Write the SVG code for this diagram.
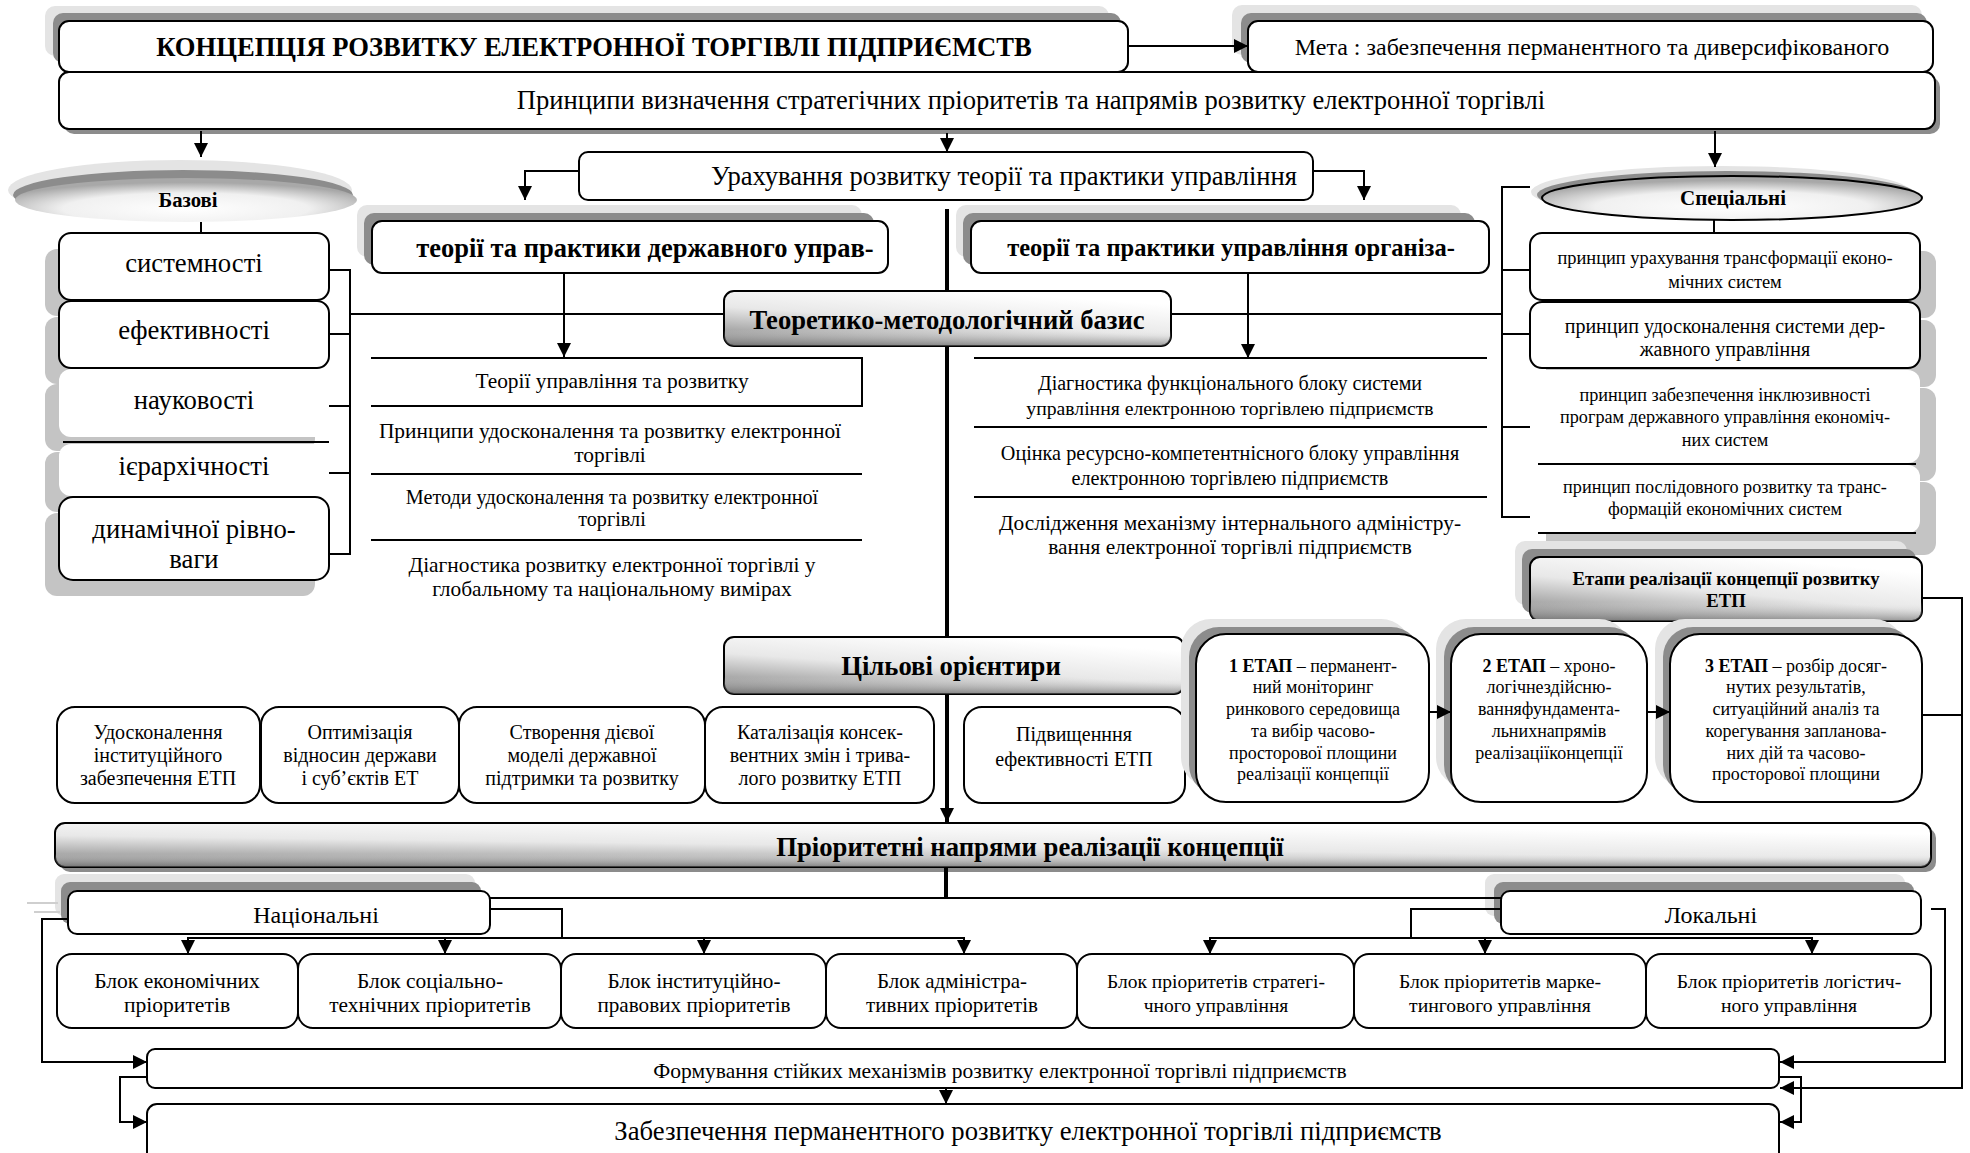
<svg xmlns="http://www.w3.org/2000/svg" width="1970" height="1153" viewBox="0 0 1970 1153">
<defs>
<style>
.t{font-family:"Liberation Serif","Times New Roman",serif;fill:#000;text-anchor:middle}
.b{font-weight:bold}
.box{fill:#fff;stroke:#000;stroke-width:2}
.nob{fill:#fff;stroke:none}
.shl{fill:#e4e4e4}
.shd{fill:#8c8c8c}
.shg{fill:#c4c4c4}
.ln{fill:none;stroke:#000;stroke-width:2}
.thk{fill:none;stroke:#000;stroke-width:4}
.gl{fill:none;stroke:#cfcfcf;stroke-width:2}
</style>
<marker id="ah" viewBox="0 0 14 14" refX="14" refY="7" markerWidth="14" markerHeight="14" orient="auto" markerUnits="userSpaceOnUse"><path d="M0,0 L14,7 L0,14 z" fill="#000"/></marker>
<linearGradient id="gr" x1="0" y1="1" x2="0.55" y2="0">
<stop offset="0" stop-color="#7c7c7c"/>
<stop offset="0.55" stop-color="#e8e8e8"/>
<stop offset="1" stop-color="#ffffff"/>
</linearGradient>
<linearGradient id="grv" x1="0" y1="0" x2="0" y2="1">
<stop offset="0" stop-color="#ffffff" stop-opacity="0"/>
<stop offset="0.7" stop-color="#ffffff" stop-opacity="0"/>
<stop offset="1" stop-color="#6a6a6a" stop-opacity="0.55"/>
</linearGradient>
<radialGradient id="rg" cx="0.5" cy="0.7" r="0.6">
<stop offset="0" stop-color="#ffffff"/>
<stop offset="0.6" stop-color="#f0f0f0"/>
<stop offset="1" stop-color="#a8a8a8"/>
</radialGradient>
</defs>

<g id="title">
<rect class="shl" x="45" y="6" width="1064" height="50" rx="10"/>
<rect class="shd" x="53" y="13" width="1068" height="50" rx="10"/>
<rect class="box" x="59" y="21" width="1069" height="51" rx="10"/>
<text class="t b" x="594" y="56" font-size="26.6">КОНЦЕПЦІЯ РОЗВИТКУ ЕЛЕКТРОННОЇ ТОРГІВЛІ ПІДПРИЄМСТВ</text>
</g>

<g id="meta">
<rect class="shl" x="1232" y="5" width="690" height="50" rx="10"/>
<rect class="shd" x="1241" y="13" width="686" height="50" rx="10"/>
<rect class="box" x="1248" y="21" width="685" height="51" rx="10"/>
<text class="t" x="1592" y="55" font-size="24">Мета : забезпечення перманентного та диверсифікованого</text>
</g>

<g id="pryntsypy">
<rect class="shd" x="64" y="77" width="1876" height="57" rx="10"/>
<rect class="box" x="59" y="72" width="1876" height="57" rx="10"/>
<text class="t" x="1031" y="109" font-size="26.6">Принципи визначення стратегічних пріоритетів та напрямів розвитку електронної торгівлі</text>
</g>

<g id="urakhuvannia">
<rect class="box" x="579" y="152" width="734" height="48" rx="9"/>
<text class="t" x="1004" y="185" font-size="26.6">Урахування розвитку теорії та практики управління</text>
</g>

<g id="bazovi">
<ellipse class="shl" cx="180" cy="190" rx="172" ry="30"/>
<ellipse class="shd" cx="183" cy="195" rx="170" ry="25"/>
<ellipse cx="186" cy="200" rx="171" ry="22" fill="url(#rg)"/>
<text class="t b" x="188" y="207" font-size="20.7">Базові</text>
</g>

<g id="bazovi-list">
<rect class="shg" x="45" y="249" width="270" height="67" rx="12"/>
<rect class="shg" x="45" y="317" width="270" height="67" rx="12"/>
<rect class="shg" x="45" y="384" width="270" height="67" rx="12"/>
<rect class="shg" x="45" y="452" width="270" height="60" rx="12"/>
<rect class="shg" x="45" y="513" width="270" height="83" rx="12"/>
<rect class="box" x="59" y="233" width="270" height="67" rx="12"/>
<text class="t" x="194" y="272" font-size="26.7">системності</text>
<rect class="box" x="59" y="301" width="270" height="67" rx="12"/>
<text class="t" x="194" y="339" font-size="26.7">ефективності</text>
<rect class="nob" x="59" y="369" width="270" height="68" rx="12"/>
<text class="t" x="194" y="409" font-size="26.7">науковості</text>
<rect class="nob" x="59" y="444" width="270" height="52" rx="12"/>
<line class="ln" x1="63" y1="442" x2="329" y2="442"/>
<text class="t" x="194" y="475" font-size="26.7">ієрархічності</text>
<rect class="box" x="59" y="497" width="270" height="83" rx="14"/>
<text class="t" x="194" y="538" font-size="26.7">динамічної рівно-</text>
<text class="t" x="194" y="568" font-size="26.7">ваги</text>
</g>

<g id="derzh">
<rect class="shl" x="357" y="205" width="505" height="52" rx="10"/>
<rect class="shd" x="364" y="213" width="510" height="52" rx="10"/>
<rect class="box" x="372" y="221" width="516" height="52" rx="10"/>
<text class="t b" x="645" y="257" font-size="26.5">теорії та практики державного управ-</text>
</g>

<g id="org">
<rect class="shl" x="956" y="205" width="505" height="52" rx="10"/>
<rect class="shd" x="963" y="213" width="512" height="52" rx="10"/>
<rect class="box" x="971" y="221" width="518" height="52" rx="10"/>
<text class="t b" x="1231" y="256" font-size="24.5">теорії та практики управління організа-</text>
</g>

<g id="teoretyko">
<rect x="724" y="291" width="447" height="55" rx="10" fill="url(#gr)" stroke="#000" stroke-width="2"/>
<rect x="724" y="291" width="447" height="55" rx="10" fill="url(#grv)"/>
<text class="t b" x="947" y="329" font-size="26.6">Теоретико-методологічний базис</text>
</g>

<g id="left-list">
<line class="ln" x1="371" y1="358" x2="862" y2="358"/>
<line class="ln" x1="862" y1="357" x2="862" y2="407"/>
<line class="ln" x1="371" y1="406" x2="862" y2="406"/>
<line class="ln" x1="371" y1="474" x2="862" y2="474"/>
<line class="ln" x1="371" y1="540" x2="862" y2="540"/>
<text class="t" x="612" y="388" font-size="21.4">Теорії управління та розвитку</text>
<text class="t" x="610" y="438" font-size="21.4">Принципи удосконалення та розвитку електронної</text>
<text class="t" x="610" y="462" font-size="21.4">торгівлі</text>
<text class="t" x="612" y="504" font-size="20.2">Методи удосконалення та розвитку електронної</text>
<text class="t" x="612" y="526" font-size="20.2">торгівлі</text>
<text class="t" x="612" y="572" font-size="21.4">Діагностика розвитку електронної торгівлі у</text>
<text class="t" x="612" y="596" font-size="21.4">глобальному та національному вимірах</text>
</g>

<g id="right-list">
<line class="ln" x1="974" y1="358" x2="1487" y2="358"/>
<line class="ln" x1="974" y1="427" x2="1487" y2="427"/>
<line class="ln" x1="974" y1="497" x2="1487" y2="497"/>
<text class="t" x="1230" y="390" font-size="20">Діагностика функціонального блоку системи</text>
<text class="t" x="1230" y="415" font-size="19.7">управління електронною торгівлею підприємств</text>
<text class="t" x="1230" y="460" font-size="20.2">Оцінка ресурсно-компетентнісного блоку управління</text>
<text class="t" x="1230" y="485" font-size="20.2">електронною торгівлею підприємств</text>
<text class="t" x="1230" y="530" font-size="21.4">Дослідження механізму інтернального адміністру-</text>
<text class="t" x="1230" y="554" font-size="21.4">вання електронної торгівлі підприємств</text>
</g>

<g id="spetsialni">
<ellipse class="shl" cx="1721" cy="192" rx="190" ry="26"/>
<ellipse class="shd" cx="1727" cy="195" rx="190" ry="24"/>
<ellipse cx="1732" cy="198" rx="190" ry="22" fill="url(#rg)" stroke="#000" stroke-width="2"/>
<text class="t b" x="1733" y="205" font-size="21">Спеціальні</text>
</g>

<g id="spetsialni-list">
<rect class="shg" x="1546" y="251" width="390" height="67" rx="12"/>
<rect class="shg" x="1546" y="320" width="390" height="67" rx="12"/>
<rect class="shg" x="1546" y="388" width="390" height="93" rx="12"/>
<rect class="shg" x="1546" y="482" width="390" height="73" rx="12"/>
<rect class="box" x="1530" y="233" width="390" height="67" rx="12"/>
<text class="t" x="1725" y="264" font-size="18.4">принцип урахування трансформації еконо-</text>
<text class="t" x="1725" y="288" font-size="18.4">мічних систем</text>
<rect class="box" x="1530" y="302" width="390" height="66" rx="12"/>
<text class="t" x="1725" y="333" font-size="20">принцип удосконалення системи дер-</text>
<text class="t" x="1725" y="356" font-size="20">жавного управління</text>
<rect class="nob" x="1530" y="370" width="390" height="93" rx="12"/>
<text class="t" x="1725" y="401" font-size="18.2">принцип забезпечення інклюзивності</text>
<text class="t" x="1725" y="423" font-size="18.2">програм державного управління економіч-</text>
<text class="t" x="1725" y="446" font-size="18.2">них систем</text>
<rect class="nob" x="1530" y="465" width="390" height="68" rx="12"/>
<line class="ln" x1="1538" y1="464" x2="1916" y2="464"/>
<text class="t" x="1725" y="493" font-size="18.2">принцип послідовного розвитку та транс-</text>
<text class="t" x="1725" y="515" font-size="18.2">формацій економічних систем</text>
<line class="ln" x1="1538" y1="533" x2="1916" y2="533"/>
</g>

<g id="etapy">
<rect class="shl" x="1515" y="541" width="392" height="64" rx="10"/>
<rect class="shd" x="1522" y="549" width="394" height="64" rx="10"/>
<rect x="1530" y="557" width="392" height="64" rx="10" fill="url(#gr)" stroke="#000" stroke-width="2"/>
<rect x="1530" y="557" width="392" height="64" rx="10" fill="url(#grv)"/>
<text class="t b" x="1726" y="585" font-size="18.7">Етапи реалізації концепції розвитку</text>
<text class="t b" x="1726" y="607" font-size="18.7">ЕТП</text>
</g>

<g id="tsilovi">
<rect x="724" y="637" width="460" height="57" rx="10" fill="url(#gr)" stroke="#000" stroke-width="2"/>
<rect x="724" y="637" width="460" height="57" rx="10" fill="url(#grv)"/>
<text class="t b" x="951" y="675" font-size="26.7">Цільові орієнтири</text>
</g>

<g id="tsil-1">
<rect class="box" x="57" y="707" width="203" height="96" rx="18"/>
<text class="t" x="158" y="739" font-size="20">Удосконалення</text>
<text class="t" x="158" y="762" font-size="20">інституційного</text>
<text class="t" x="158" y="785" font-size="20">забезпечення ЕТП</text>
</g>
<g id="tsil-2">
<rect class="box" x="261" y="707" width="198" height="96" rx="18"/>
<text class="t" x="360" y="739" font-size="20">Оптимізація</text>
<text class="t" x="360" y="762" font-size="20">відносин держави</text>
<text class="t" x="360" y="785" font-size="20">і суб’єктів ЕТ</text>
</g>
<g id="tsil-3">
<rect class="box" x="459" y="707" width="246" height="96" rx="18"/>
<text class="t" x="582" y="739" font-size="20">Створення дієвої</text>
<text class="t" x="582" y="762" font-size="20">моделі державної</text>
<text class="t" x="582" y="785" font-size="20">підтримки та розвитку</text>
</g>
<g id="tsil-4">
<rect class="box" x="705" y="707" width="229" height="96" rx="18"/>
<text class="t" x="820" y="739" font-size="20">Каталізація консек-</text>
<text class="t" x="820" y="762" font-size="20">вентних змін і трива-</text>
<text class="t" x="820" y="785" font-size="20">лого розвитку ЕТП</text>
</g>
<g id="tsil-5">
<rect class="box" x="964" y="707" width="221" height="96" rx="18"/>
<text class="t" x="1074" y="741" font-size="20">Підвищенння</text>
<text class="t" x="1074" y="766" font-size="20">ефективності ЕТП</text>
</g>

<g id="etap-1">
<rect class="shl" x="1181" y="619" width="230" height="168" rx="30"/>
<rect class="shd" x="1189" y="627" width="232" height="168" rx="30"/>
<rect class="box" x="1196" y="634" width="233" height="168" rx="30"/>
<text class="t" x="1313" y="672" font-size="18"><tspan class="b">1 ЕТАП</tspan> – перманент-</text>
<text class="t" x="1313" y="693" font-size="18">ний моніторинг</text>
<text class="t" x="1313" y="715" font-size="18">ринкового середовища</text>
<text class="t" x="1313" y="737" font-size="18">та вибір часово-</text>
<text class="t" x="1313" y="759" font-size="18">просторової площини</text>
<text class="t" x="1313" y="780" font-size="18">реалізації концепції</text>
</g>
<g id="etap-2">
<rect class="shl" x="1436" y="619" width="193" height="168" rx="30"/>
<rect class="shd" x="1444" y="627" width="195" height="168" rx="30"/>
<rect class="box" x="1451" y="634" width="196" height="168" rx="30"/>
<text class="t" x="1549" y="672" font-size="18"><tspan class="b">2 ЕТАП</tspan> – хроно-</text>
<text class="t" x="1549" y="693" font-size="18">логічнездійсню-</text>
<text class="t" x="1549" y="715" font-size="18">ванняфундамента-</text>
<text class="t" x="1549" y="737" font-size="18">льнихнапрямів</text>
<text class="t" x="1549" y="759" font-size="18">реалізаціїконцепції</text>
</g>
<g id="etap-3">
<rect class="shl" x="1655" y="619" width="249" height="168" rx="30"/>
<rect class="shd" x="1663" y="627" width="251" height="168" rx="30"/>
<rect class="box" x="1670" y="634" width="252" height="168" rx="30"/>
<text class="t" x="1796" y="672" font-size="18"><tspan class="b">3 ЕТАП</tspan> – розбір досяг-</text>
<text class="t" x="1796" y="693" font-size="18">нутих результатів,</text>
<text class="t" x="1796" y="715" font-size="18">ситуаційний аналіз та</text>
<text class="t" x="1796" y="737" font-size="18">корегування запланова-</text>
<text class="t" x="1796" y="759" font-size="18">них дій та часово-</text>
<text class="t" x="1796" y="780" font-size="18">просторової площини</text>
</g>

<g id="priorytetni">
<rect class="shd" x="60" y="828" width="1876" height="44" rx="10"/>
<rect x="55" y="823" width="1876" height="44" rx="10" fill="url(#gr)" stroke="#000" stroke-width="2"/>
<rect x="55" y="823" width="1876" height="44" rx="10" fill="url(#grv)"/>
<text class="t b" x="1030" y="856" font-size="26.7">Пріоритетні напрями реалізації концепції</text>
</g>

<g id="natsionalni">
<rect class="shl" x="55" y="874" width="420" height="42" rx="9"/>
<rect class="shd" x="61" y="882" width="420" height="42" rx="9"/>
<rect class="box" x="68" y="891" width="422" height="43" rx="9"/>
<text class="t" x="316" y="923" font-size="24">Національні</text>
</g>

<g id="lokalni">
<rect class="shl" x="1485" y="874" width="420" height="42" rx="9"/>
<rect class="shd" x="1494" y="882" width="420" height="42" rx="9"/>
<rect class="box" x="1501" y="891" width="420" height="43" rx="9"/>
<text class="t" x="1711" y="923" font-size="24">Локальні</text>
</g>

<g id="blok-1"><rect class="box" x="57" y="954" width="241" height="74" rx="15"/>
<text class="t" x="177" y="988" font-size="21.6">Блок економічних</text><text class="t" x="177" y="1012" font-size="21.6">пріоритетів</text></g>
<g id="blok-2"><rect class="box" x="298" y="954" width="263" height="74" rx="15"/>
<text class="t" x="430" y="988" font-size="21.4">Блок соціально-</text><text class="t" x="430" y="1012" font-size="21.4">технічних пріоритетів</text></g>
<g id="blok-3"><rect class="box" x="561" y="954" width="265" height="74" rx="15"/>
<text class="t" x="694" y="988" font-size="21.2">Блок інституційно-</text><text class="t" x="694" y="1012" font-size="21.2">правових пріоритетів</text></g>
<g id="blok-4"><rect class="box" x="826" y="954" width="251" height="74" rx="15"/>
<text class="t" x="952" y="988" font-size="21">Блок адміністра-</text><text class="t" x="952" y="1012" font-size="21">тивних пріоритетів</text></g>
<g id="blok-5"><rect class="box" x="1077" y="954" width="277" height="74" rx="15"/>
<text class="t" x="1216" y="988" font-size="19.5">Блок пріоритетів стратегі-</text><text class="t" x="1216" y="1012" font-size="19.5">чного управління</text></g>
<g id="blok-6"><rect class="box" x="1354" y="954" width="292" height="74" rx="15"/>
<text class="t" x="1500" y="988" font-size="19.7">Блок пріоритетів марке-</text><text class="t" x="1500" y="1012" font-size="19.7">тингового управління</text></g>
<g id="blok-7"><rect class="box" x="1646" y="954" width="285" height="74" rx="15"/>
<text class="t" x="1789" y="988" font-size="19.7">Блок пріоритетів логістич-</text><text class="t" x="1789" y="1012" font-size="19.7">ного управління</text></g>

<g id="formuvannia">
<rect class="box" x="147" y="1049" width="1632" height="39" rx="8"/>
<text class="t" x="1000" y="1078" font-size="21.5">Формування стійких механізмів розвитку електронної торгівлі підприємств</text>
</g>

<g id="zabezpechennia">
<rect class="box" x="147" y="1104" width="1632" height="64" rx="10"/>
<text class="t" x="1028" y="1140" font-size="26.7">Забезпечення перманентного розвитку електронної торгівлі підприємств</text>
</g>

<g id="connectors">
<line class="ln" x1="1128" y1="46" x2="1248" y2="46" marker-end="url(#ah)"/>
<line class="ln" x1="201" y1="131" x2="201" y2="157" marker-end="url(#ah)"/>
<line class="ln" x1="947" y1="133" x2="947" y2="152" marker-end="url(#ah)"/>
<line class="ln" x1="1715" y1="131" x2="1715" y2="167" marker-end="url(#ah)"/>
<polyline class="ln" points="579,171 525,171 525,200" marker-end="url(#ah)"/>
<polyline class="ln" points="1313,171 1364,171 1364,200" marker-end="url(#ah)"/>
<line class="thk" x1="947" y1="209" x2="947" y2="291"/>
<line class="thk" x1="947" y1="346" x2="947" y2="637"/>
<line class="thk" x1="947" y1="694" x2="947" y2="822" marker-end="url(#ah)"/>
<line class="ln" x1="201" y1="222" x2="201" y2="233"/>
<polyline class="ln" points="329,270 350,270"/>
<polyline class="ln" points="329,334 350,334"/>
<polyline class="ln" points="329,406 350,406"/>
<polyline class="ln" points="329,473 350,473"/>
<polyline class="ln" points="329,554 350,554"/>
<line class="ln" x1="350" y1="269" x2="350" y2="555"/>
<line class="ln" x1="350" y1="314" x2="724" y2="314"/>
<line class="ln" x1="1714" y1="220" x2="1714" y2="233"/>
<line class="ln" x1="1502" y1="186" x2="1502" y2="518"/>
<polyline class="ln" points="1502,187 1530,187"/>
<polyline class="ln" points="1502,270 1530,270"/>
<polyline class="ln" points="1502,334 1530,334"/>
<polyline class="ln" points="1502,427 1530,427"/>
<polyline class="ln" points="1502,517 1530,517"/>
<line class="ln" x1="1171" y1="314" x2="1502" y2="314"/>
<line class="ln" x1="564" y1="273" x2="564" y2="357" marker-end="url(#ah)"/>
<line class="ln" x1="1248" y1="273" x2="1248" y2="358" marker-end="url(#ah)"/>
<polyline class="ln" points="1922,598 1962,598 1962,1088 1780,1088" marker-end="url(#ah)"/>
<line class="ln" x1="1922" y1="715" x2="1962" y2="715"/>
<line class="ln" x1="1429" y1="712" x2="1451" y2="712" marker-end="url(#ah)"/>
<line class="ln" x1="1647" y1="712" x2="1670" y2="712" marker-end="url(#ah)"/>
<line class="thk" x1="946" y1="868" x2="946" y2="899"/>
<line class="ln" x1="490" y1="898" x2="1501" y2="898"/>
<polyline class="ln" points="490,909 562,909 562,938"/>
<line class="ln" x1="188" y1="938" x2="964" y2="938"/>
<line class="ln" x1="188" y1="937" x2="188" y2="954" marker-end="url(#ah)"/>
<line class="ln" x1="445" y1="937" x2="445" y2="954" marker-end="url(#ah)"/>
<line class="ln" x1="704" y1="937" x2="704" y2="954" marker-end="url(#ah)"/>
<line class="ln" x1="964" y1="937" x2="964" y2="954" marker-end="url(#ah)"/>
<polyline class="ln" points="1501,909 1411,909 1411,938"/>
<line class="ln" x1="1210" y1="938" x2="1812" y2="938"/>
<line class="ln" x1="1210" y1="937" x2="1210" y2="954" marker-end="url(#ah)"/>
<line class="ln" x1="1485" y1="937" x2="1485" y2="954" marker-end="url(#ah)"/>
<line class="ln" x1="1812" y1="937" x2="1812" y2="954" marker-end="url(#ah)"/>
<polyline class="ln" points="1931,909 1945,909 1945,1062 1780,1062" marker-end="url(#ah)"/>
<polyline class="ln" points="68,919 42,919 42,1062 147,1062" marker-end="url(#ah)"/>
<polyline class="ln" points="147,1077 120,1077 120,1122 147,1122" marker-end="url(#ah)"/>
<polyline class="ln" points="1779,1077 1801,1077 1801,1122 1780,1122" marker-end="url(#ah)"/>
<line class="ln" x1="946" y1="1088" x2="946" y2="1104" marker-end="url(#ah)"/>
<line class="gl" x1="27" y1="903" x2="58" y2="903"/>
<line class="gl" x1="34" y1="912" x2="60" y2="912"/>
</g>
</svg>
